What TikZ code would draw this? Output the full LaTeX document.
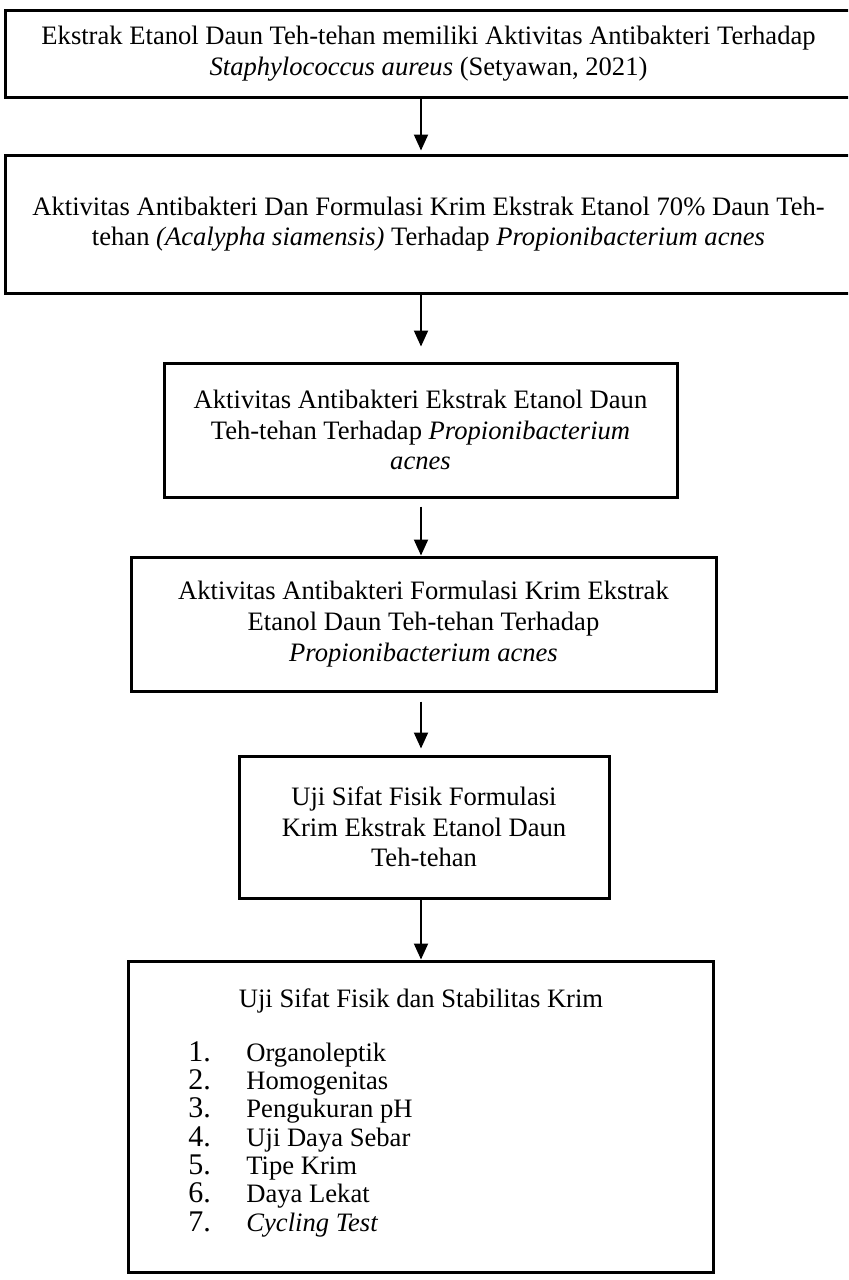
\documentclass[tikz,border=0pt]{standalone}
\usepackage{fontspec}
\setmainfont{Liberation Serif}
\usetikzlibrary{arrows.meta, positioning}

\newcommand{\nomor}[1]{{\fontsize{15}{14.15}\selectfont #1.}}

\begin{document}
\begin{tikzpicture}[x=0.5pt, y=-0.5pt,
        box/.style={draw, line width=1.5pt, rectangle, align=center, inner sep=0pt,
                    font=\fontsize{13.3}{15.3}\selectfont},
        arr/.style={-{Triangle[width=7pt, length=8pt]}, line width=1pt}]
    \clip (0,0) rectangle (848,1280);
    \coordinate (spine) at (421,0);

    \node[box, minimum width=423.5pt, minimum height=43.5pt] (ekstrak) at (428.5,53.5)
        {Ekstrak Etanol Daun Teh-tehan memiliki Aktivitas Antibakteri Terhadap\\
         \textit{Staphylococcus aureus} (Setyawan, 2021)};
    \node[box, minimum width=423.5pt, minimum height=69pt] (formulasi) at (428.5,224)
        {Aktivitas Antibakteri Dan Formulasi Krim Ekstrak Etanol 70\% Daun Teh-\\
         tehan \textit{(Acalypha siamensis)} Terhadap \textit{Propionibacterium acnes}};
    \node[box, minimum width=256.5pt, minimum height=67pt] (antiekstrak) at (420.5,430)
        {Aktivitas Antibakteri Ekstrak Etanol Daun\\
         Teh-tehan Terhadap \textit{Propionibacterium}\\
         \textit{acnes}};
    \node[box, minimum width=292.5pt, minimum height=67pt] (antikrim) at (423.5,624)
        {Aktivitas Antibakteri Formulasi Krim Ekstrak\\
         Etanol Daun Teh-tehan Terhadap\\
         \textit{Propionibacterium acnes}};
    \node[box, minimum width=185pt, minimum height=71pt] (fisik) at (424,827)
        {Uji Sifat Fisik Formulasi\\
         Krim Ekstrak Etanol Daun\\
         Teh-tehan};
    \node[box, minimum width=292.5pt, minimum height=155.5pt] (stabilitas) at (420.5,1116.5) {};

    % isi kotak terakhir
    \node[font=\fontsize{13.3}{15.3}\selectfont] (judul) at (421,1001)
        {Uji Sifat Fisik dan Stabilitas Krim};
    \node[anchor=north west, inner sep=0pt, font=\fontsize{13.3}{14.15}\selectfont] (daftar) at (188,1041)
        {\begin{tabular}{@{}p{29pt}@{}l@{}}
            \nomor{1} & Organoleptik\\
            \nomor{2} & Homogenitas\\
            \nomor{3} & Pengukuran pH\\
            \nomor{4} & Uji Daya Sebar\\
            \nomor{5} & Tipe Krim\\
            \nomor{6} & Daya Lekat\\
            \nomor{7} & \textit{Cycling Test}
         \end{tabular}};

    \draw[arr, shorten >=1.5pt] (ekstrak.south -| spine) -- (formulasi.north -| spine);
    \draw[arr, shorten >=7.5pt] (formulasi.south -| spine) -- (antiekstrak.north -| spine);
    \draw[arr, shorten <=4pt] (antiekstrak.south -| spine) -- (antikrim.north -| spine);
    \draw[arr, shorten <=4.5pt, shorten >=3pt] (antikrim.south -| spine) -- (fisik.north -| spine);
    \draw[arr] (fisik.south -| spine) -- (stabilitas.north -| spine);
\end{tikzpicture}
\end{document}
